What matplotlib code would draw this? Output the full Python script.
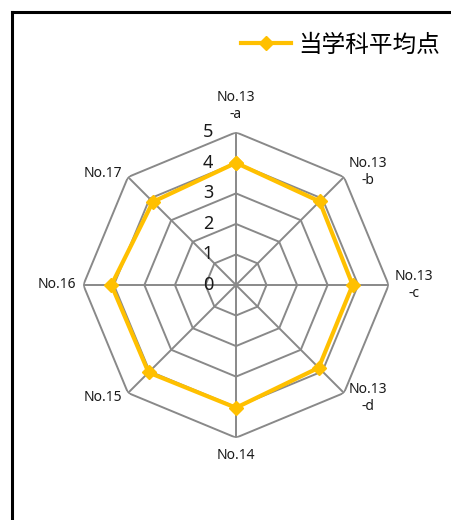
import numpy as np
import matplotlib
matplotlib.use("Agg")
import matplotlib.pyplot as plt
from matplotlib.lines import Line2D
from matplotlib.transforms import offset_copy

plt.rcParams['font.family'] = ['Noto Sans', 'Noto Sans CJK JP', 'DejaVu Sans']

categories = ["No.13\n-a", "No.13\n-b", "No.13\n-c", "No.13\n-d", "No.14", "No.15", "No.16", "No.17"]
values = [4.0, 3.87, 3.82, 3.83, 4.02, 4.05, 4.08, 3.85]
series_name = "当学科平均点"
ticks = [0, 1, 2, 3, 4, 5]

W, H = 451, 520
fig = plt.figure(figsize=(W / 100, H / 100), dpi=100)

cx, cy, R = 236, 285, 152.7
ax = fig.add_axes([(cx - R) / W, 1 - (cy + R) / H, 2 * R / W, 2 * R / H], projection='polar')
ax.set_theta_zero_location('N')
ax.set_theta_direction(-1)
ax.set_ylim(0, 5)
ax.set_xticks([])
ax.set_yticks([])
ax.grid(False)
ax.spines['polar'].set_visible(False)
ax.patch.set_alpha(0)

n = len(categories)
theta = np.arange(n) * 2 * np.pi / n
grid_col = '#898989'
# polygon grid rings
for t in ticks[1:]:
    ax.plot(np.append(theta, theta[0]), [t] * (n + 1), color=grid_col, lw=1.4, zorder=1)
# spokes
for th in theta:
    ax.plot([th, th], [0, ticks[-1]], color=grid_col, lw=1.4, zorder=1)

# series
ax.plot(np.append(theta, theta[0]), values + values[:1], color='#FFC000', lw=3,
        marker='D', markersize=7.5, zorder=3, clip_on=False)

# radial tick labels
tr = offset_copy(ax.transData, fig=fig, x=-23, y=0, units='dots')
for t in ticks:
    ax.text(0, t, str(t), transform=tr, ha='right', va='center', fontsize=13, color='#1a1a1a')

# category labels
offsets = [(0, 26, 'center'), (5, 5, 'left'), (6, 0, 'left'), (5, -5, 'left'),
           (0, -18, 'center'), (-6, -5, 'right'), (-7, 0, 'right'), (-6, 4, 'right')]
for th, lab, (ox, oy, ha) in zip(theta, categories, offsets):
    trl = offset_copy(ax.transData, fig=fig, x=ox, y=oy, units='dots')
    ax.text(th, ticks[-1], lab, transform=trl, ha=ha, va='center', multialignment='center',
            fontsize=10, color='#1a1a1a', linespacing=1.2)

# legend
h = Line2D([], [], color='#FFC000', lw=3, marker='D', markersize=7.5)
leg = fig.legend([h], [series_name], loc='center right', bbox_to_anchor=(449 / W, 1 - 45 / H),
                 frameon=False, handlelength=2.1, handletextpad=0.3, borderaxespad=0,
                 prop={'family': ['Noto Sans CJK JP', 'DejaVu Sans'], 'size': 17})

# chart border (left and top visible)
fig.add_artist(Line2D([11.5 / W, 11.5 / W], [0, 1 - 12 / H], color='black', lw=2.2,
                      transform=fig.transFigure))
fig.add_artist(Line2D([11.5 / W, 1], [1 - 12 / H, 1 - 12 / H], color='black', lw=2.2,
                      transform=fig.transFigure))

fig.savefig('out.png', dpi=100)
